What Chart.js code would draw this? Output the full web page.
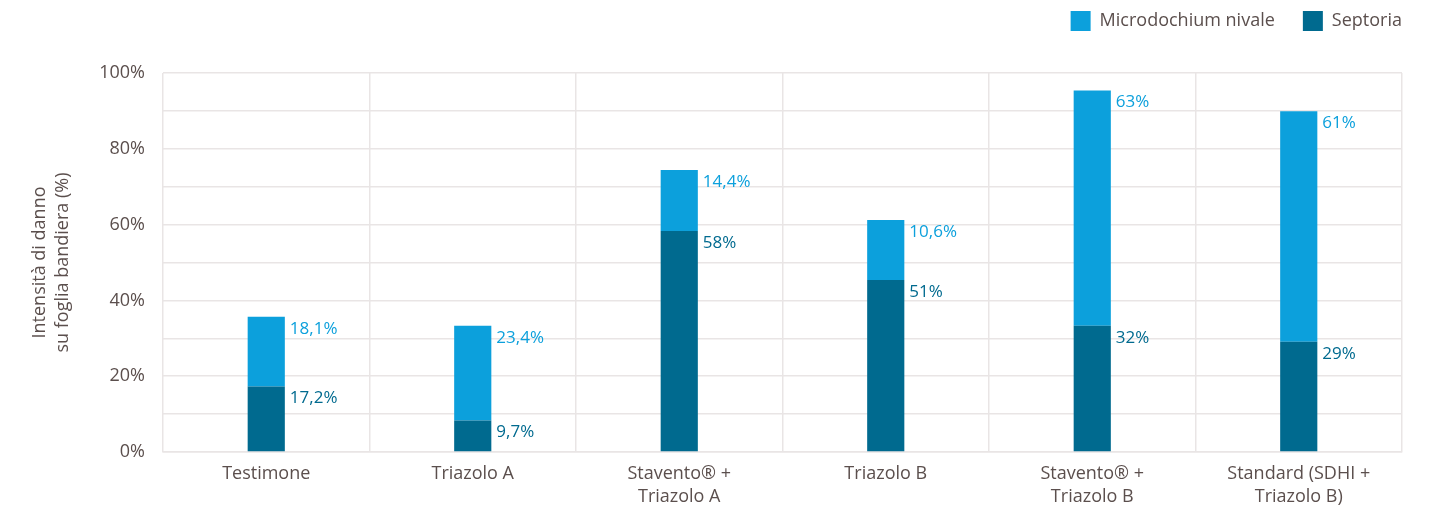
<!DOCTYPE html>
<html>
<head>
<meta charset="utf-8">
<script src="https://cdn.jsdelivr.net/npm/chart.js@4/dist/chart.umd.min.js"></script>
<style>
  html, body { margin: 0; padding: 0; background: #fff; }
  #wrap { width: 1433px; height: 509px; }
</style>
</head>
<body>
<div id="wrap"><canvas id="myChart" width="1433" height="509"></canvas></div>
<script>
// categories and values
let categories = [
    "Testimone",
    "Triazolo A",
    ["Stavento® +", "Triazolo A"],
    "Triazolo B",
    ["Stavento® +", "Triazolo B"],
    ["Standard (SDHI +", "Triazolo B)"]
];

let septoria = [17.3, 8.3, 58.3, 45.4, 33.3, 29.1];
let microdochium = [18.4, 25.0, 16.1, 15.8, 62.1, 60.8];

// printed labels (as written on the original)
let septoriaLabels = ["17,2%", "9,7%", "58%", "51%", "32%", "29%"];
let microdochiumLabels = ["18,1%", "23,4%", "14,4%", "10,6%", "63%", "61%"];

let yTicks = [0, 20, 40, 60, 80, 100];

let dark = "#006a8f";
let light = "#0ca0dc";
let textColor = "#5b4f4d";
let gridColor = "#e9e5e5";
let fontFamily = "'Open Sans', sans-serif";

// draws the value text at the right of each segment
let segmentLabels = {
    id: "segmentLabels",
    afterDatasetsDraw(chart) {
        let ctx = chart.ctx;
        ctx.save();
        ctx.font = "17px " + fontFamily;
        ctx.textAlign = "left";
        ctx.textBaseline = "middle";
        chart.data.datasets.forEach(function (ds, i) {
            let meta = chart.getDatasetMeta(i);
            meta.data.forEach(function (bar, j) {
                ctx.fillStyle = ds.backgroundColor;
                ctx.fillText(ds.labelsText[j], bar.x + bar.width / 2 + 5, bar.y + 12);
            });
        });
        ctx.restore();
    }
};

// legend keeps some room under it
let legendRoom = {
    id: "legendRoom",
    beforeInit(chart) {
        let fit = chart.legend.fit;
        chart.legend.fit = function () {
            fit.bind(chart.legend)();
            this.height = 62;
        };
    }
};

let canvas = document.getElementById("myChart");
let ctx = canvas.getContext("2d");

let myChart = new Chart(ctx, {
    type: "bar",
    data: {
        labels: categories,
        datasets: [
            {
                label: "Septoria",
                data: septoria,
                labelsText: septoriaLabels,
                backgroundColor: dark,
                barPercentage: 0.18,
                categoryPercentage: 1
            },
            {
                label: "Microdochium nivale",
                data: microdochium,
                labelsText: microdochiumLabels,
                backgroundColor: light,
                barPercentage: 0.18,
                categoryPercentage: 1
            }
        ]
    },
    options: {
        responsive: false,
        animation: false,
        layout: { padding: { left: 0, right: 31, top: 11, bottom: 0 } },
        plugins: {
            legend: {
                position: "top",
                align: "end",
                reverse: true,
                labels: {
                    boxWidth: 20,
                    boxHeight: 20,
                    padding: 0,
                    color: textColor,
                    font: { family: fontFamily, size: 18 },
                    generateLabels(chart) {
                        let items = Chart.defaults.plugins.legend.labels.generateLabels(chart);
                        items.forEach(function (it) {
                            if (it.text === "Microdochium nivale") it.text = it.text + "      ";
                        });
                        return items;
                    }
                }
            },
            tooltip: { enabled: false }
        },
        scales: {
            x: {
                stacked: true,
                grid: { color: gridColor, lineWidth: 1.5, drawTicks: false, offset: true },
                border: { color: gridColor, width: 1.5 },
                ticks: {
                    color: textColor,
                    padding: 10,
                    maxRotation: 0,
                    font: { family: fontFamily, size: 18, lineHeight: 1.3 }
                },
                afterFit(scale) { scale.height = 57; }
            },
            y: {
                stacked: true,
                min: 0,
                max: 100,
                grid: { color: gridColor, lineWidth: 1.5, drawTicks: false },
                border: { display: false },
                ticks: {
                    stepSize: 10,
                    padding: 18,
                    color: textColor,
                    font: { family: fontFamily, size: 18 },
                    callback: function (v) { return yTicks.indexOf(v) >= 0 ? v + "%" : ""; }
                },
                title: {
                    display: true,
                    text: ["Intensità di danno", "su foglia bandiera (%)"],
                    color: textColor,
                    font: { family: fontFamily, size: 18, lineHeight: 1.3 },
                    padding: { top: 28, bottom: 0 }
                },
                afterFit(scale) { scale.width = 163; }
            }
        }
    },
    plugins: [segmentLabels, legendRoom]
});
</script>
</body>
</html>
